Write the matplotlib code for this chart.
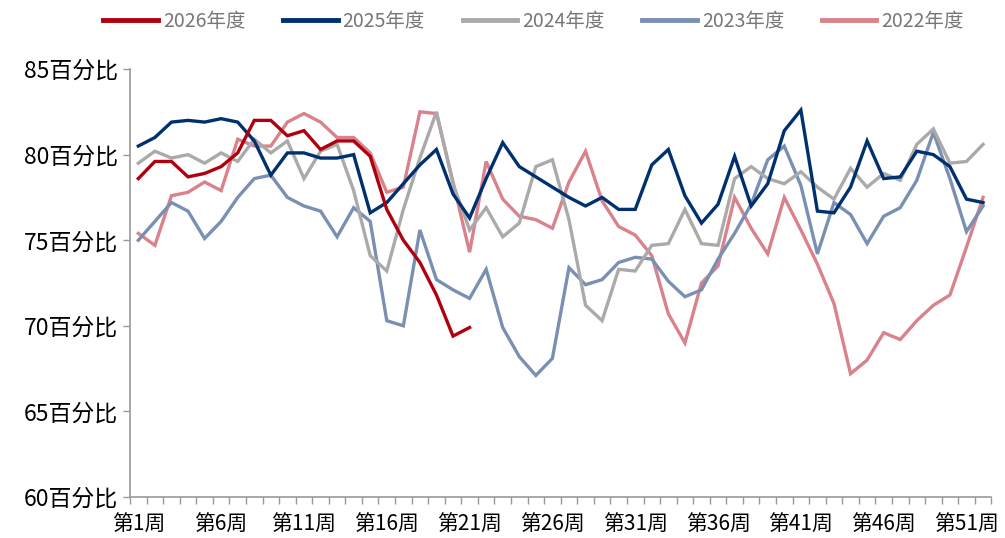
import numpy as np
import matplotlib
matplotlib.use("Agg")
import matplotlib.pyplot as plt

plt.rcParams['font.family'] = ['Noto Sans CJK SC', 'DejaVu Sans']

weeks = np.arange(1, 53)
tick_weeks = list(range(1, 53, 5))
tick_labels = ['第%d周' % w for w in tick_weeks]

y2026 = [78.6, 79.6, 79.6, 78.7, 78.9, 79.3, 80.1, 82.0, 82.0, 81.1, 81.4, 80.3,
         80.8, 80.8, 79.9, 76.8, 75.0, 73.7, 71.8, 69.4, 69.9]

y2025 = [80.5, 81.0, 81.9, 82.0, 81.9, 82.1, 81.9, 80.8, 78.8, 80.1, 80.1, 79.8,
         79.8, 80.0, 76.6, 77.2, 78.3, 79.4, 80.3, 77.7, 76.3, 78.6, 80.7, 79.3,
         78.7, 78.1, 77.5, 77.0, 77.5, 76.8, 76.8, 79.4, 80.3, 77.6, 76.0, 77.1,
         79.9, 77.0, 78.3, 81.4, 82.6, 76.7, 76.6, 78.1, 80.8, 78.6, 78.7, 80.2,
         80.0, 79.3, 77.4, 77.2]

y2024 = [79.5, 80.2, 79.8, 80.0, 79.5, 80.1, 79.6, 80.9, 80.1, 80.8, 78.6, 80.2,
         80.6, 77.9, 74.1, 73.2, 76.8, 79.8, 82.5, 78.3, 75.6, 76.9, 75.2, 76.0,
         79.3, 79.7, 76.2, 71.2, 70.3, 73.3, 73.2, 74.7, 74.8, 76.8, 74.8, 74.7,
         78.6, 79.3, 78.6, 78.3, 79.0, 78.1, 77.4, 79.2, 78.1, 78.9, 78.5, 80.6,
         81.5, 79.5, 79.6, 80.6]

y2023 = [75.0, 76.1, 77.2, 76.7, 75.1, 76.1, 77.5, 78.6, 78.8, 77.5, 77.0, 76.7,
         75.2, 76.9, 76.1, 70.3, 70.0, 75.6, 72.7, 72.1, 71.6, 73.3, 69.9, 68.2,
         67.1, 68.1, 73.4, 72.4, 72.7, 73.7, 74.0, 73.9, 72.6, 71.7, 72.1, 73.9,
         75.4, 77.1, 79.7, 80.5, 78.2, 74.2, 77.2, 76.5, 74.8, 76.4, 76.9, 78.5,
         81.3, 78.6, 75.5, 77.0]

y2022 = [75.4, 74.7, 77.6, 77.8, 78.4, 77.9, 80.9, 80.5, 80.5, 81.9, 82.4, 81.9,
         81.0, 81.0, 80.1, 77.8, 78.1, 82.5, 82.4, 78.4, 74.3, 79.6, 77.4, 76.4,
         76.2, 75.7, 78.4, 80.2, 77.3, 75.8, 75.3, 74.1, 70.7, 69.0, 72.5, 73.5,
         77.5, 75.7, 74.2, 77.5, 75.6, 73.6, 71.3, 67.2, 68.0, 69.6, 69.2, 70.3,
         71.2, 71.8, 74.6, 77.5]

series = [
    ('2026年度', y2026, '#B0000F'),
    ('2025年度', y2025, '#00306E'),
    ('2024年度', y2024, '#AAAAAA'),
    ('2023年度', y2023, '#7A90B3'),
    ('2022年度', y2022, '#DA828C'),
]

fig = plt.figure(figsize=(10.05, 5.38), dpi=100)
ax = fig.add_axes([0.1294, 0.0762, 0.857, 0.7955])

# draw older years first so the recent ones sit on top
for name, vals, color in reversed(series):
    ax.plot(weeks[:len(vals)], vals, color=color, lw=2.4, label=name,
            solid_joinstyle='miter')

ax.set_xlim(0.5, 52.5)
ax.set_ylim(60, 85)
ax.set_yticks(range(60, 86, 5))
ax.set_yticklabels(['%d百分比' % v for v in range(60, 86, 5)], fontsize=16.5)

# category style axis: small ticks between weeks, labels every 5 weeks
ax.set_xticks(np.arange(0.5, 53, 1))
ax.set_xticklabels([])
ax.tick_params(axis='x', which='major', length=5, color='#999999', width=1)
ax.set_xticks(tick_weeks, minor=True)
ax.set_xticklabels(tick_labels, minor=True, fontsize=15)
ax.tick_params(axis='x', which='minor', length=0, pad=12)
ax.tick_params(axis='y', length=5, color='#999999', width=1, pad=4)

for s in ['top', 'right']:
    ax.spines[s].set_visible(False)
for s in ['left', 'bottom']:
    ax.spines[s].set_color('#999999')
    ax.spines[s].set_linewidth(1.2)

handles, labels = ax.get_legend_handles_labels()
leg = fig.legend(handles[::-1], labels[::-1], loc='upper center',
                 bbox_to_anchor=(0.531, 1.012), ncol=5, frameon=False,
                 fontsize=14, handlelength=2.8, columnspacing=1.95,
                 handletextpad=0.25)
for t in leg.get_texts():
    t.set_color('#777777')
for l in leg.get_lines():
    l.set_linewidth(3.5)

fig.savefig('out.png', dpi=100)
